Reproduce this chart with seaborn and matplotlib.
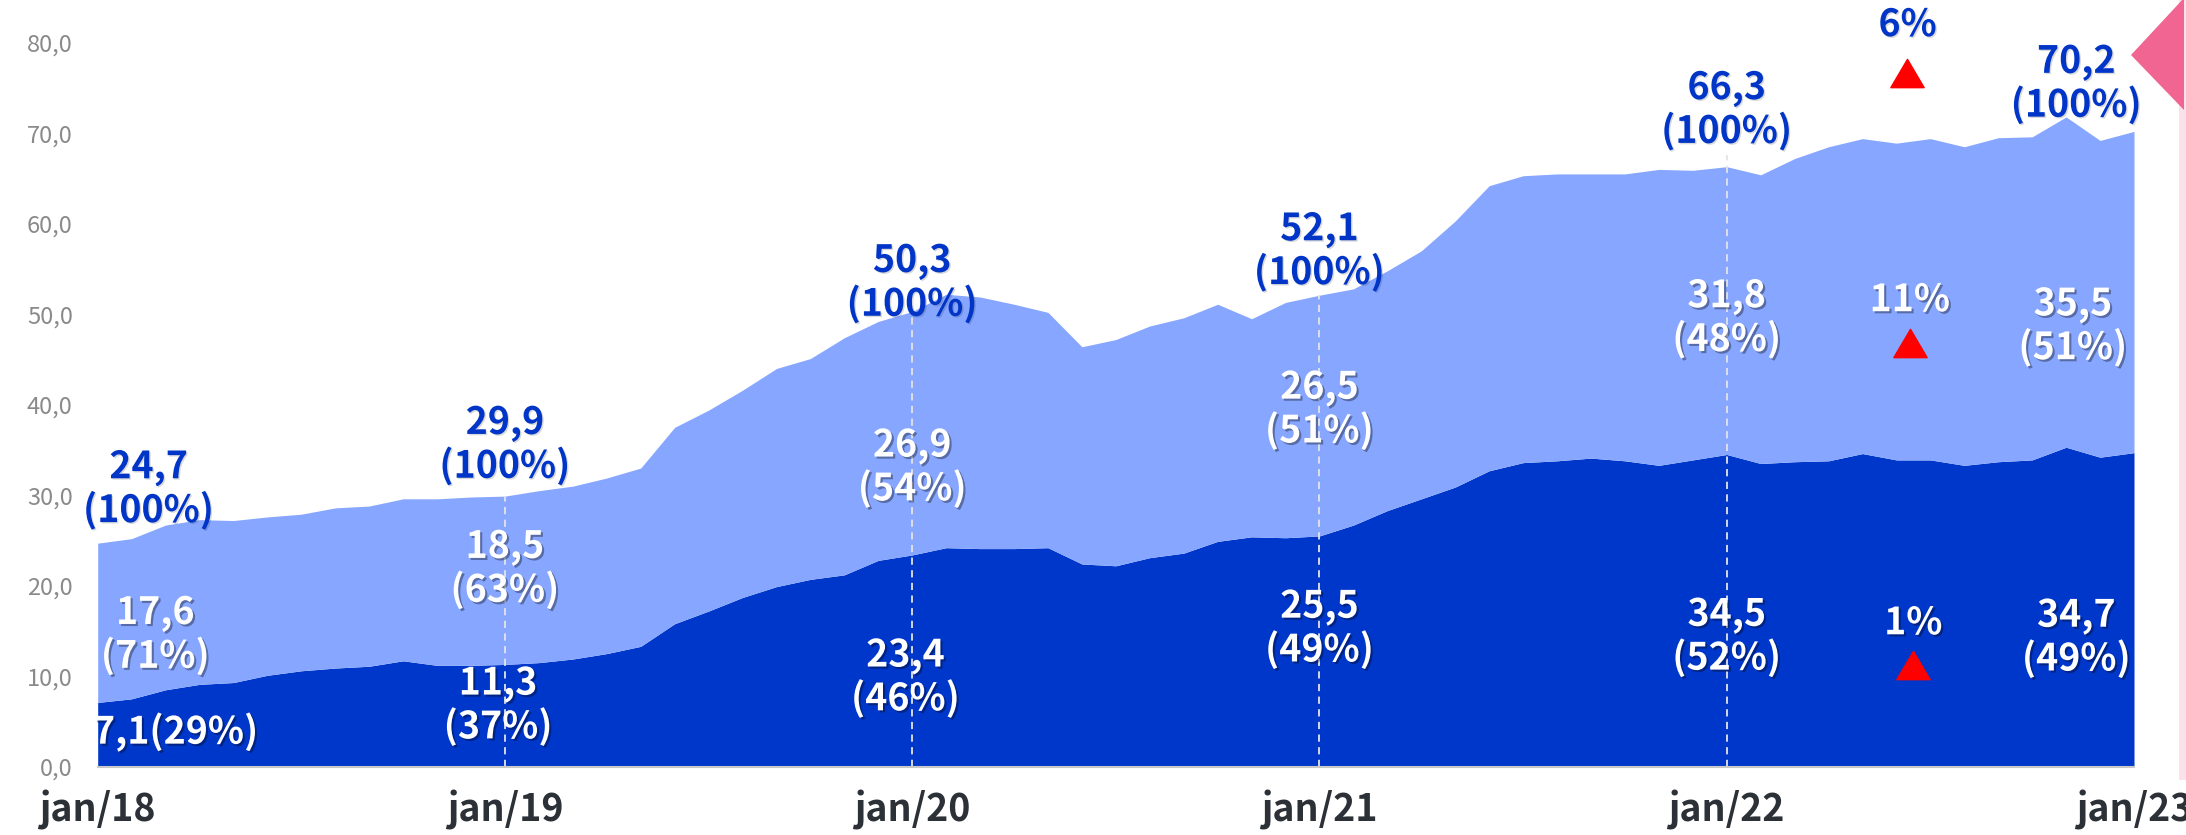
import numpy as np
import pandas as pd
import matplotlib
matplotlib.use("Agg")
import matplotlib.pyplot as plt
import seaborn as sns
from matplotlib import patheffects as pe
from matplotlib.path import Path
from matplotlib.patches import Polygon, Rectangle

# ---------------- data ----------------
month_labels = ["jan/18", "jan/19", "jan/20", "jan/21", "jan/22", "jan/23"]

dark_values = [
    7.1, 7.5, 8.5, 9.1, 9.3, 10.1, 10.6, 10.9, 11.1, 11.7, 11.2, 11.2,
    11.3, 11.5, 11.9, 12.5, 13.3, 15.8, 17.2, 18.7, 19.9, 20.7, 21.2, 22.8,
    23.4, 24.2, 24.1, 24.1, 24.2, 22.4, 22.2, 23.1, 23.6, 24.9, 25.4, 25.3,
    25.5, 26.7, 28.3, 29.6, 30.9, 32.7, 33.6, 33.8, 34.1, 33.8, 33.3, 33.9,
    34.5, 33.5, 33.7, 33.8, 34.6, 33.9, 33.9, 33.3, 33.7, 33.9, 35.3, 34.2,
    34.7,
]

total_values = [
    24.7, 25.2, 26.7, 27.3, 27.2, 27.6, 27.9, 28.6, 28.8, 29.6, 29.6, 29.8,
    29.9, 30.5, 31.0, 31.9, 33.0, 37.5, 39.4, 41.6, 44.0, 45.1, 47.4, 49.2,
    50.3, 52.2, 51.9, 51.1, 50.2, 46.4, 47.2, 48.7, 49.6, 51.1, 49.5, 51.3,
    52.1, 52.8, 54.8, 57.0, 60.3, 64.2, 65.3, 65.5, 65.5, 65.5, 66.0, 65.9,
    66.3, 65.4, 67.2, 68.5, 69.4, 68.9, 69.4, 68.5, 69.5, 69.6, 71.8, 69.2,
    70.2,
]

y_ticks = [0, 10, 20, 30, 40, 50, 60, 70, 80]

total_labels = ["24,7\n(100%)", "29,9\n(100%)", "50,3\n(100%)",
                "52,1\n(100%)", "66,3\n(100%)", "70,2\n(100%)"]
light_labels = ["17,6\n(71%)", "18,5\n(63%)", "26,9\n(54%)",
                "26,5\n(51%)", "31,8\n(48%)", "35,5\n(51%)"]
dark_labels = ["7,1(29%)", "11,3\n(37%)", "23,4\n(46%)",
               "25,5\n(49%)", "34,5\n(52%)", "34,7\n(49%)"]
change_labels = ["6%", "11%", "1%"]

# ---------------- style ----------------
DARK = "#0037CB"
LIGHT = "#86A6FF"
BLUE_TXT = "#0035C8"
sns.set_theme(style="white")
plt.rcParams["font.family"] = ["Noto Sans CJK SC", "DejaVu Sans"]

W, H = 2186, 835
fig = plt.figure(figsize=(W / 100, H / 100), dpi=100)
x0, x1 = 97.7, 2134.0
y0 = 766.7
ppu = 9.05
ymax = 84
ax = fig.add_axes([x0 / W, (H - y0) / H, (x1 - x0) / W, ymax * ppu / H])

df = pd.DataFrame({"month": np.arange(len(dark_values)),
                   "dark": dark_values, "total": total_values})

ax.fill_between(df["month"], 0, df["dark"], color=DARK, lw=0, zorder=1)
ax.fill_between(df["month"], df["dark"], df["total"], color=LIGHT, lw=0, zorder=1)
sns.lineplot(data=df, x="month", y="total", ax=ax, lw=0, legend=False)

ax.set_xlim(0, len(dark_values) - 1)
ax.set_ylim(0, ymax)

# dashed year markers
year_idx = list(range(0, len(dark_values), 12))
inner = year_idx[1:-1]
ax.vlines(inner, 0, [total_values[i] + (1.3 if i == 48 else 0) for i in inner],
          colors="#e4e4e4", linestyles=(0, (4, 3)), lw=1.3, zorder=2)

# axes styling
for s in ["top", "right", "left"]:
    ax.spines[s].set_visible(False)
ax.spines["bottom"].set_color("#c8c8c8")
ax.spines["bottom"].set_linewidth(1.5)
ax.spines["bottom"].set_zorder(3)

ax.set_xticks(year_idx)
ax.set_xticklabels(month_labels)
ax.tick_params(axis="x", direction="out", length=12, width=1.5, color="#cfcfcf",
               pad=5, labelsize=27, labelcolor="#2b3137")
for lbl in ax.get_xticklabels():
    lbl.set_fontweight("bold")

ax.set_yticks(y_ticks)
ax.set_yticklabels([f"{v:.1f}".replace(".", ",") for v in y_ticks])
ax.tick_params(axis="y", direction="in", length=8, width=1.2, color="#e6e6e6",
               pad=18, labelsize=17, labelcolor="#8a8a8a")
ax.set_xlabel("")
ax.set_ylabel("")
ax.grid(False)

# ---------------- labels ----------------
white_fx = [pe.withSimplePatchShadow(offset=(1.5, -1.5), shadow_rgbFace="#000000", alpha=0.35)]
blue_fx = [pe.withSimplePatchShadow(offset=(1, -1), shadow_rgbFace="#000000", alpha=0.15)]

total_pos = [(1.5, 30.7), (12, 35.6), (24, 53.5), (36, 57.0), (48, 72.6), (58.3, 75.5)]
light_pos = [(1.7, 14.6), (12, 21.9), (24, 33.1), (36, 39.5), (48, 49.6), (58.2, 48.7)]
dark_pos = [(2.3, 3.85), (11.8, 6.8), (23.8, 9.9), (36, 15.3), (48, 14.4), (58.3, 14.3)]

for (x, y), t in zip(total_pos, total_labels):
    ax.text(x, y, t, ha="center", va="center", fontsize=27, fontweight="bold",
            color=BLUE_TXT, linespacing=1.12, path_effects=blue_fx, zorder=5, clip_on=False)
for (x, y), t in zip(light_pos, light_labels):
    ax.text(x, y, t, ha="center", va="center", fontsize=27, fontweight="bold",
            color="white", linespacing=1.12, path_effects=white_fx, zorder=5)
for (x, y), t in zip(dark_pos, dark_labels):
    ax.text(x, y, t, ha="center", va="center", fontsize=27, fontweight="bold",
            color="white", linespacing=1.12, path_effects=white_fx, zorder=5)

# growth markers
tri = Path([(-1.0, -0.85), (1.0, -0.85), (0.0, 0.85), (-1.0, -0.85)],
           [Path.MOVETO, Path.LINETO, Path.LINETO, Path.CLOSEPOLY])
change_txt_pos = [(53.33, 82.0), (53.4, 51.6), (53.5, 15.9)]
change_tri_pos = [(53.3, 76.6), (53.4, 46.8), (53.5, 11.25)]
change_colors = [BLUE_TXT, "white", "white"]
for (tx, ty), (mx, my), t, c in zip(change_txt_pos, change_tri_pos, change_labels, change_colors):
    ax.text(tx, ty, t, ha="center", va="center", fontsize=27, fontweight="bold",
            color=c, path_effects=(blue_fx if c != "white" else white_fx),
            zorder=5, clip_on=False)
    ax.plot([mx], [my], marker=tri, markersize=24, color="#FF0000", lw=0,
            zorder=6, clip_on=False)

# decorative right-edge elements
fig.patches.append(Rectangle((2179 / W, (H - 780) / H), 7 / W, 780 / H,
                             transform=fig.transFigure, facecolor="#FBE1EA",
                             edgecolor="none", zorder=0))
fig.patches.append(Polygon([(2131 / W, (H - 55) / H), (2184 / W, (H + 2) / H),
                            (2184 / W, (H - 110) / H)], closed=True,
                           transform=fig.transFigure, facecolor="#F06592",
                           edgecolor="none", zorder=1))

fig.savefig("out.png", dpi=100)
